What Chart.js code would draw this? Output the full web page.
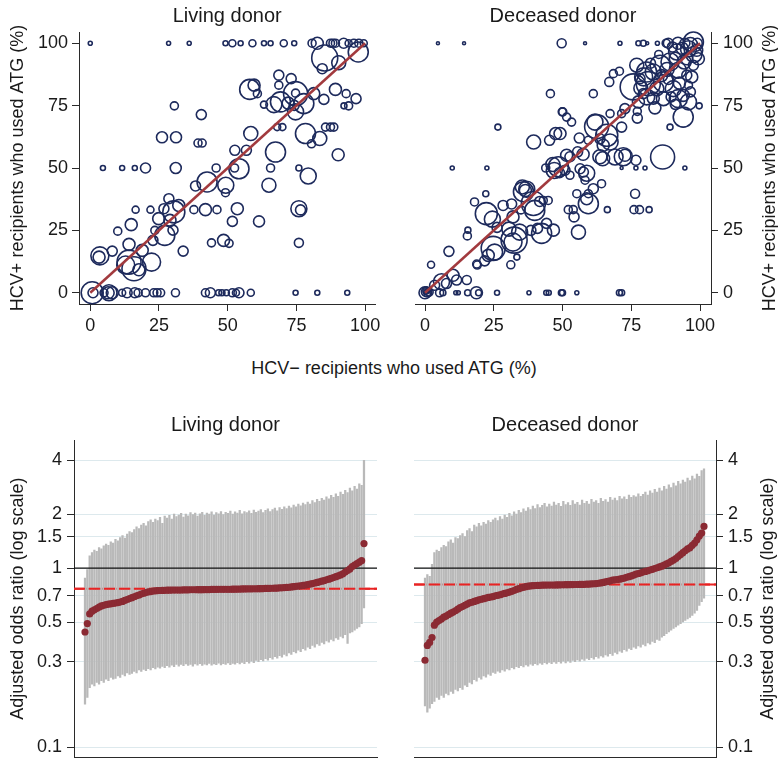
<!DOCTYPE html>
<html>
<head>
<meta charset="utf-8">
<title>ATG use by centre, HCV+ vs HCV− recipients</title>
<script src="https://cdn.jsdelivr.net/npm/chart.js@4.4.1/dist/chart.umd.min.js"></script>
<style>
  body { margin: 0; background: #fff; }
  #page { position: relative; width: 778px; height: 773px; font-family: "Liberation Sans", Arial, sans-serif; color: #1a1a1a; }
  #page canvas { position: absolute; }
  #sharedX { position: absolute; left: 5px; width: 778px; top: 357px; text-align: center; font-size: 18px; line-height: 22px; }
</style>
</head>
<body>
<div id="page">
  <canvas id="livingBubble" width="390" height="345" style="left:0;top:0"></canvas>
  <canvas id="deceasedBubble" width="388" height="345" style="left:390px;top:0"></canvas>
  <div id="sharedX">HCV− recipients who used ATG (%)</div>
  <canvas id="livingOdds" width="390" height="373" style="left:0;top:400px"></canvas>
  <canvas id="deceasedOdds" width="388" height="373" style="left:390px;top:400px"></canvas>
</div>

<script>
// ---- data ----
const pctTicks = [0, 25, 50, 75, 100];
const orTicks = [0.1, 0.3, 0.5, 0.7, 1, 1.5, 2, 4];
const identityLine = [0, 100];
const livingPooledOR = 0.768;
const deceasedPooledOR = 0.811;

// centre bubbles: [HCV- % ATG, HCV+ % ATG, size]
const livingBubbles = [
  [0,100,2],[28.5,100,2],[36,100,2],[49.2,100,2.5],[51.7,100,3.5],[54.7,100,2.5],[59,100,3.5],[63.2,100,2.5],[65.6,100,2.5],[70.4,100,3.5],
  [74.2,100,2.5],[80.7,100,4],[82.6,100,6],[87.4,100,4],[88.3,100,4],[89.2,100,4],[92.2,100,5],[94,100,3.5],[95.9,100,4],[97.7,100,4],[99.5,100,3.5],
  [85.3,94.1,13],[84.4,89.8,5],[90.4,92.2,7],[97.5,96.5,10],[68.6,87.2,5],[73.1,85.8,5],[68.6,83.2,4],[58,81.5,10],[59.6,83.2,6],[60.8,79.8,4],
  [74.7,79.8,12],[74.7,80,4],[81.3,79.8,6],[85,77.5,5],[89.2,81.5,6],[93.1,79.8,4],[96.7,77.8,5],[94,74.9,4],[92.3,74.9,3],
  [63.2,75.4,3.5],[66.8,75.4,8],[69.2,76.5,10],[74.2,75.1,5],[77.7,75.8,10],[74.7,72.5,8],[72,76,6],[68,66.4,3.5],[69.9,66.4,3.5],
  [78.3,63.8,10],[83.5,61.8,7],[80.5,59.7,4],[85.6,66.4,4],[87.4,66.4,4],[88.6,66.4,4],[58.4,63.8,7],[67.4,56.4,10],[90.2,55.3,6],[52.6,57.1,5],[56.8,57.1,5],
  [54.1,49.7,10],[52.5,50,4],[49.3,43.1,8],[65.6,50,4],[75.9,50,3],[79.3,46.8,8],[65,43.1,7],[53.5,33.7,6],[51.7,28.6,5],[61.4,28.6,5.5],
  [75.9,33.7,8],[76.5,33.2,5],[75.9,20,4.5],[30.6,74.9,4],[40.4,71.4,5],[26.1,62.3,5.5],[31.2,62.3,5.5],[39.2,60,4],[40.7,60,4],
  [4.6,50,2.5],[11.6,50,2.5],[16.2,50,2.5],[20.1,50,5],[31.1,50,5.5],[45.8,50,4],[42.5,44.4,10],[38.3,42.8,5],[49.2,40.1,4],
  [28.6,37.7,5],[30.4,32.4,11],[32.2,35,6],[26.8,33.7,5],[24.9,29.7,6],[23.5,25,4],[27.1,23,10],[22.8,21,5],[29,29,6],[30.1,25.1,5],
  [16.5,33.3,3.5],[21.9,33.3,3.5],[37.7,33.3,4],[41.9,33.3,6],[46.1,33.3,4],[14.9,27.3,6],[10,24.7,4],[33.8,16.7,5],[44.1,20,4],[48.5,21,6],[50.5,19.8,4],
  [3.2,14.3,6],[3.5,14.8,9],[8,16.7,5],[14.1,19.4,6],[14.1,12.3,12],[12.9,11.1,9],[15.9,9.6,12],[17.7,9.2,6],[22.3,12.3,9],[18.9,17,6],
  [0.7,0,11],[1,0,5],[6.8,0,8],[6.5,0,6],[8,0,6],[5,0,4],[11.6,0,3.5],[13.4,0,5],[16.2,0,5],[17.4,0,4],[20.1,0,4],[23.1,0,4],[24.3,0,4],[25.6,0,4],
  [31,0,4],[41.9,0,4],[43.7,0,5],[46.7,0,3],[47.9,0,3],[49.5,0,3],[51.7,0,4],[53,0,3.5],[54.1,0,5],[58.4,0,3.5],[74.7,0,2.5],[82.6,0,2.5],[93.5,0,2.5]
];

const deceasedBubbles = [
  [4.7,100,1.5],[14.2,100,1.5],[49.7,100,4.5],[58.2,100,1.5],[70.9,100,2],[77.6,100,2.5],[79.4,100,3],[80.8,100,1.5],[84.5,100,2],[87.7,100,4],[88.5,100,5],
  [92,100,6],[94.5,100,5],[97.6,100.5,10],[95.8,97.8,8],[91.5,96.5,8],[98.8,97.2,6],[95.2,93.8,6],[99.4,93.8,6],[97.6,91.2,5],[89.1,92.5,9],
  [92.1,89.2,8],[85.5,91.2,10],[83,88.5,8],[80.6,88.5,10],[77,91.2,7],[78.2,85.8,5],[75.7,82.5,13],[81.2,83.8,12],[84.3,81.8,7],[80.6,78.5,8],
  [86.7,84.5,10],[90.3,81.8,8],[95.2,87.2,5],[95.8,83.2,4],[92.1,77.8,9],[95.8,76.5,8],[93.9,79.1,6],[86.7,77.8,7],[83.6,74.1,6],[99.7,74.9,3],
  [93.9,70.4,10],[89.1,66.4,3],[79.4,79.8,5],[77.6,76.5,6],[77.2,70,5],[77.2,72.7,4],[61.2,79.8,4],[67,84.5,4.5],[68.5,87.8,4],[70.7,88.8,4],
  [72.7,73.8,5],[71.5,71.8,4],[45.6,79.8,4],[49.9,72.5,4],[26.5,66.4,3],
  [96.5,99.5,7],[93.5,98,6],[90,98.5,5],[99,100,5],[97.8,95.5,8],[94.2,92.5,7],[91,94,6],[88,89.5,7],[86,87,6],[82,92,5],[79.5,86.5,9],
  [88.5,85.5,5],[92.5,84,6],[97,86.5,6],[89.5,78.5,5],[83,78,6],[91,75.5,5],[96.5,80.5,5],[85,95.5,4],[78.5,82,7],
  [61.8,68.4,8],[62.4,66.6,12],[66.1,63.1,11],[67.3,60.4,8],[64.8,59.1,6],[63.6,61.7,5],[56.1,62,5],[59.4,61.1,4],[71.5,66.4,5],[67.3,71.8,4],
  [50.1,72.5,4],[51.5,70.4,4],[53.3,68.4,4],[49.1,63.8,6],[39.5,60.4,7],[45.3,61.1,5],[47.5,63.8,6],
  [64.6,53.7,7],[69.1,54.4,8],[72.7,55.1,6],[72.1,54.5,9],[76.7,53.1,5],[86.4,54.4,12],[71.5,50,1.5],[76.7,50,2],[80,50,2],[94.5,50,2],
  [51.5,55.1,6],[52.7,54.5,5],[55.5,56.5,5],[57.5,55.5,6],[63.6,54.5,7],
  [50.9,49.1,5],[52.7,47.1,4],[56.4,49.7,5],[57.6,48.4,5],[58.2,45.1,4],[58.8,47.9,8],[48.5,50.5,10],[47,49,8],[46.5,51.4,7],[48.9,48.1,5],[43.9,50,4],[9.9,50,2],[22.5,50,2],
  [55.2,39.7,4],[59.4,39.7,4],[61.2,41.7,5],[64.2,43.7,4],[58.8,37.7,6],[59.4,35.7,10],[52.1,33.3,4],[53.9,33.3,4],[54.2,30.4,5],[55.8,24.3,7],
  [66.3,33.3,3],[76,33.3,4],[78,33.3,4],[81.5,33.3,3],[76.4,39.7,4.5],
  [35.4,42.4,7],[36.5,41,6],[35.8,40.5,10],[37,41.5,8],[39.4,35.8,12],[41.7,36.6,5],[43,37,4],[44.8,37,4],[22.1,39.7,3],[18,36.4,4],
  [22.3,31.7,11],[24.5,29.5,8],[28.4,35,5],[31.5,35.6,5],[34.9,33.2,4],[32,30.4,6],[26.2,26.2,5],[30.5,25.5,7],[39.9,33,10],
  [42.4,23.8,10],[44.2,27.8,5],[46.7,25.1,6],[38.5,25,5],[40.9,25.8,5],[34.4,24.3,8],
  [32.4,21.1,13],[32,20.3,9],[24.8,17.8,12],[25.3,16.3,8],[23,15,6],[21.7,12.8,5],[18.8,11.5,4],[19,11.1,4],[31.2,11.2,4],[33.4,14.3,3],
  [15.6,25.1,3],[15.4,22.8,4],[8.7,16.6,5],[2.2,11.2,3.5],[10.2,7,6],[7.8,3.7,5],[11.5,5.1,5],[15.2,5.1,4.5],[6,4.4,8],[3.5,3,5],
  [0,0,6],[0.5,0.4,5],[1,0,4],[0.3,0.8,3],[1.5,0.3,4],[0.2,0.2,2],[0.8,0.6,2.5],[5.3,0,4],[6.5,0,3],[11.2,0,2],[12.1,0,2],[15.5,0,3],[18.7,0,6],[19.5,0,3],
  [26.2,0,2.5],[37.8,0,2],[44.1,0,2.5],[45,0,2.5],[49.6,0,3],[50,0,3],[55.2,0,2],[70.7,0,3],[71.5,0,3]
];

// centre-specific adjusted odds ratios, sorted, with 95% CI
const livingOR = [
  0.44, 0.49, 0.555, 0.575, 0.585, 0.595, 0.605, 0.615, 0.62, 0.625,
  0.63, 0.632, 0.635, 0.638, 0.642, 0.646, 0.652, 0.66, 0.668, 0.676,
  0.684, 0.692, 0.70, 0.708, 0.716, 0.724, 0.73, 0.736, 0.74, 0.744,
  0.747, 0.749, 0.75, 0.751, 0.752, 0.753, 0.753, 0.754, 0.754, 0.755,
  0.755, 0.755, 0.756, 0.756, 0.756, 0.757, 0.757, 0.757, 0.758, 0.758,
  0.758, 0.759, 0.759, 0.759, 0.76, 0.76, 0.76, 0.761, 0.761, 0.761,
  0.762, 0.762, 0.762, 0.763, 0.763, 0.764, 0.764, 0.765, 0.765, 0.766,
  0.766, 0.766, 0.767, 0.767, 0.768, 0.768, 0.769, 0.77, 0.77, 0.771,
  0.772, 0.773, 0.774, 0.775, 0.776, 0.778, 0.78, 0.782, 0.785, 0.788,
  0.791, 0.794, 0.797, 0.801, 0.805, 0.809, 0.814, 0.82, 0.826, 0.832,
  0.838, 0.845, 0.852, 0.86, 0.868, 0.877, 0.886, 0.896, 0.906, 0.916,
  0.93, 0.95, 0.97, 0.99, 1.02, 1.04, 1.06, 1.08, 1.1, 1.37
];
const livingLo = [
  0.174, 0.19, 0.215, 0.225, 0.22, 0.23, 0.225, 0.235, 0.23, 0.24,
  0.235, 0.245, 0.24, 0.242, 0.25, 0.245, 0.255, 0.25, 0.26, 0.255,
  0.258, 0.265, 0.26, 0.27, 0.265, 0.272, 0.268, 0.275, 0.27, 0.278,
  0.274, 0.28, 0.276, 0.283, 0.278, 0.285, 0.28, 0.287, 0.282, 0.29,
  0.284, 0.29, 0.285, 0.292, 0.286, 0.29, 0.284, 0.292, 0.287, 0.293,
  0.286, 0.291, 0.288, 0.294, 0.287, 0.292, 0.289, 0.295, 0.288, 0.293,
  0.29, 0.296, 0.289, 0.294, 0.291, 0.297, 0.292, 0.298, 0.293, 0.3,
  0.295, 0.302, 0.297, 0.305, 0.3, 0.308, 0.303, 0.312, 0.306, 0.316,
  0.31, 0.32, 0.314, 0.325, 0.318, 0.33, 0.324, 0.336, 0.33, 0.342,
  0.336, 0.348, 0.342, 0.355, 0.348, 0.362, 0.355, 0.37, 0.362, 0.378,
  0.37, 0.385, 0.378, 0.392, 0.386, 0.4, 0.392, 0.408, 0.4, 0.416,
  0.408, 0.425, 0.38, 0.435, 0.44, 0.45, 0.46, 0.47, 0.49, 0.6
];
const livingHi = [
  0.88, 0.98, 1.17, 1.22, 1.26, 1.24, 1.30, 1.28, 1.33, 1.36,
  1.34, 1.40, 1.38, 1.45, 1.42, 1.48, 1.52, 1.47, 1.55, 1.60,
  1.58, 1.64, 1.70, 1.66, 1.74, 1.78, 1.72, 1.82, 1.86, 1.80,
  1.88, 1.84, 1.92, 1.78, 1.95, 1.90, 1.97, 1.88, 2.00, 1.94,
  1.98, 2.02, 1.93, 2.00, 1.96, 2.04, 1.99, 2.03, 1.95, 2.01,
  2.05, 1.97, 2.03, 2.00, 2.06, 1.98, 2.04, 2.01, 2.07, 1.99,
  2.05, 2.02, 2.08, 2.00, 2.06, 2.03, 2.10, 2.01, 2.07, 2.04,
  2.09, 2.02, 2.11, 2.05, 2.08, 2.12, 2.04, 2.10, 2.14, 2.07,
  2.12, 2.16, 2.09, 2.18, 2.13, 2.20, 2.15, 2.22, 2.17, 2.25,
  2.20, 2.28, 2.23, 2.31, 2.26, 2.34, 2.28, 2.38, 2.32, 2.42,
  2.36, 2.45, 2.40, 2.50, 2.44, 2.55, 2.48, 2.60, 2.52, 2.66,
  2.58, 2.72, 2.64, 2.80, 2.70, 2.86, 2.76, 2.95, 2.90, 4.00
];

const deceasedOR = [
  0.306, 0.37, 0.385, 0.41, 0.48, 0.50, 0.51, 0.52, 0.532, 0.54,
  0.55, 0.56, 0.568, 0.578, 0.59, 0.602, 0.61, 0.62, 0.63, 0.64,
  0.645, 0.652, 0.658, 0.665, 0.67, 0.675, 0.68, 0.686, 0.69, 0.694,
  0.70, 0.705, 0.71, 0.716, 0.722, 0.728, 0.735, 0.742, 0.75, 0.76,
  0.768, 0.775, 0.782, 0.788, 0.793, 0.796, 0.798, 0.80, 0.801, 0.802,
  0.803, 0.803, 0.804, 0.804, 0.805, 0.805, 0.806, 0.806, 0.807, 0.807,
  0.808, 0.808, 0.809, 0.809, 0.81, 0.81, 0.811, 0.811, 0.812, 0.813,
  0.815, 0.816, 0.818, 0.82, 0.823, 0.827, 0.832, 0.837, 0.843, 0.849,
  0.856, 0.86, 0.864, 0.868, 0.874, 0.88, 0.888, 0.896, 0.905, 0.915,
  0.925, 0.933, 0.941, 0.95, 0.958, 0.967, 0.976, 0.985, 0.995, 1.005,
  1.015, 1.025, 1.04, 1.055, 1.07, 1.09, 1.11, 1.13, 1.16, 1.19,
  1.22, 1.25, 1.28, 1.30, 1.34, 1.38, 1.44, 1.51, 1.57, 1.71
];
const deceasedLo = [
  0.17, 0.157, 0.165, 0.175, 0.18, 0.19, 0.185, 0.195, 0.19, 0.2,
  0.196, 0.205, 0.2, 0.21, 0.206, 0.215, 0.21, 0.222, 0.218, 0.23,
  0.226, 0.238, 0.234, 0.245, 0.24, 0.25, 0.246, 0.256, 0.252, 0.262,
  0.258, 0.266, 0.262, 0.27, 0.266, 0.274, 0.27, 0.278, 0.274, 0.282,
  0.278, 0.285, 0.281, 0.288, 0.284, 0.291, 0.286, 0.293, 0.288, 0.295,
  0.29, 0.297, 0.292, 0.298, 0.293, 0.299, 0.294, 0.3, 0.295, 0.302,
  0.296, 0.303, 0.298, 0.305, 0.3, 0.307, 0.302, 0.31, 0.305, 0.313,
  0.308, 0.316, 0.31, 0.32, 0.314, 0.324, 0.318, 0.328, 0.322, 0.333,
  0.326, 0.338, 0.332, 0.344, 0.338, 0.35, 0.344, 0.356, 0.35, 0.362,
  0.356, 0.368, 0.362, 0.375, 0.368, 0.382, 0.376, 0.39, 0.384, 0.4,
  0.395, 0.412, 0.42, 0.43, 0.44, 0.45, 0.46, 0.47, 0.48, 0.49,
  0.5, 0.51, 0.52, 0.53, 0.545, 0.56, 0.58, 0.62, 0.65, 0.68
];
const deceasedHi = [
  0.88, 0.92, 0.90, 1.05, 1.22, 1.26, 1.24, 1.30, 1.34, 1.32,
  1.40, 1.44, 1.38, 1.48, 1.46, 1.52, 1.56, 1.50, 1.62, 1.66,
  1.60, 1.74, 1.70, 1.78, 1.72, 1.80, 1.76, 1.84, 1.80, 1.86,
  1.90, 1.84, 1.94, 1.88, 1.98, 1.92, 2.02, 1.96, 2.06, 2.00,
  2.10, 2.04, 2.14, 2.08, 2.18, 2.12, 2.22, 2.15, 2.26, 2.18,
  2.24, 2.30, 2.20, 2.28, 2.22, 2.34, 2.25, 2.30, 2.21, 2.36,
  2.26, 2.32, 2.24, 2.38, 2.28, 2.33, 2.25, 2.40, 2.30, 2.36,
  2.28, 2.42, 2.34, 2.38, 2.30, 2.45, 2.36, 2.41, 2.34, 2.48,
  2.40, 2.46, 2.38, 2.52, 2.44, 2.50, 2.42, 2.56, 2.48, 2.54,
  2.50, 2.60, 2.52, 2.58, 2.66, 2.56, 2.70, 2.62, 2.75, 2.66,
  2.80, 2.70, 2.86, 2.76, 2.92, 2.82, 2.98, 2.88, 3.05, 2.95,
  3.10, 3.02, 3.18, 3.08, 3.26, 3.15, 3.35, 3.25, 3.50, 3.58
];

// ---- styling ----
const navy = '#1d2a5c';
const diagRed = '#a23a3e';
const maroon = '#8b2a33';
const barGrey = '#b9b9b9';
const gridBlue = '#dde9ed';
const refRed = '#e82323';
const axisInk = '#2a2a2a';
const textInk = '#1a1a1a';

Chart.defaults.font.family = '"Liberation Sans", Arial, sans-serif';
Chart.defaults.font.size = 18;
Chart.defaults.color = textInk;

// y-axis title drawn bottom-to-top on the right-hand panels
const sideTitle = {
  id: 'sideTitle',
  afterDraw(chart, args, opts) {
    if (!opts.text) return;
    const ctx = chart.ctx;
    const area = chart.chartArea;
    ctx.save();
    ctx.translate(opts.x, (area.top + area.bottom) / 2);
    ctx.rotate(-Math.PI / 2);
    ctx.font = '18px "Liberation Sans", Arial, sans-serif';
    ctx.fillStyle = textInk;
    ctx.textAlign = 'center';
    ctx.textBaseline = 'middle';
    ctx.fillText(opts.text, 0, 0);
    ctx.restore();
  }
};
Chart.register(sideTitle);

function panelTitle(text, top, bottom) {
  return { display: true, text: text, fullSize: false, color: textInk,
           font: { size: 20, weight: 'normal' }, padding: { top: top, bottom: bottom } };
}

function bubblePanel(id, title, bubbles, left) {
  const yTitle = 'HCV+ recipients who used ATG (%)';
  return new Chart(document.getElementById(id), {
    type: 'bubble',
    data: {
      datasets: [
        {
          type: 'line',
          data: identityLine.map(v => ({ x: v, y: v })),
          borderColor: diagRed,
          borderWidth: 2.5,
          pointRadius: 0,
          order: 0
        },
        {
          data: bubbles.map(b => ({ x: b[0], y: b[1], r: b[2] })),
          backgroundColor: 'rgba(0,0,0,0)',
          borderColor: navy,
          borderWidth: 1.6,
          clip: false,
          order: 1
        }
      ]
    },
    options: {
      responsive: false,
      animation: false,
      events: [],
      layout: { padding: left ? { left: 0, right: 14, top: 0, bottom: 0 } : { left: 25, right: 0, top: 0, bottom: 0 } },
      plugins: {
        legend: { display: false },
        tooltip: { enabled: false },
        title: panelTitle(title, 4, 4),
        sideTitle: left ? {} : { text: yTitle, x: 380 }
      },
      scales: {
        x: {
          type: 'linear',
          min: left ? -4.1 : -3.64,
          max: left ? 103.74 : 104,
          afterBuildTicks: s => { s.ticks = pctTicks.map(v => ({ value: v })); },
          afterFit: s => { s.height = 41; },
          grid: { drawOnChartArea: false, tickLength: 7, color: axisInk },
          border: { color: axisInk, width: 1 },
          ticks: { padding: 4, maxRotation: 0, color: textInk }
        },
        y: {
          type: 'linear',
          position: left ? 'left' : 'right',
          min: -4.5,
          max: 104.5,
          afterBuildTicks: s => { s.ticks = pctTicks.map(v => ({ value: v })); },
          afterFit: s => { s.width = left ? 79 : 67; },
          grid: { drawOnChartArea: false, tickLength: 7, color: axisInk },
          border: { color: axisInk, width: 1 },
          ticks: { padding: left ? 4 : 5, color: textInk },
          title: { display: left, text: yTitle, color: textInk, padding: { top: 7, bottom: 0 } }
        }
      }
    }
  });
}

function oddsPanel(id, title, centre, lower, upper, pooled, left) {
  const yTitle = 'Adjusted odds ratio (log scale)';
  const span = [-4.69, left ? 124.55 : 124.12];
  return new Chart(document.getElementById(id), {
    type: 'bar',
    data: {
      datasets: [
        {
          type: 'line',
          data: centre.map((v, i) => ({ x: i, y: v })),
          showLine: false,
          pointRadius: 3.6,
          pointBackgroundColor: maroon,
          pointBorderWidth: 0,
          order: 0
        },
        {
          type: 'line',
          data: span.map(x => ({ x: x, y: pooled })),
          borderColor: refRed,
          borderWidth: 2,
          borderDash: [11, 4],
          pointRadius: 0,
          order: 1
        },
        {
          type: 'line',
          data: span.map(x => ({ x: x, y: 1 })),
          borderColor: '#111',
          borderWidth: 1.2,
          pointRadius: 0,
          order: 2
        },
        {
          data: lower.map((v, i) => ({ x: i, y: [v, upper[i]] })),
          backgroundColor: barGrey,
          barThickness: 1.6,
          order: 3
        },
        {
          type: 'line',
          data: span.map(x => ({ x: x, y: pooled })),
          borderColor: refRed,
          borderWidth: 2,
          pointRadius: 0,
          order: 4
        }
      ]
    },
    options: {
      responsive: false,
      animation: false,
      events: [],
      layout: { padding: left ? { left: 0, right: 13, top: 0, bottom: 5 } : { left: 24, right: 0, top: 0, bottom: 5 } },
      plugins: {
        legend: { display: false },
        tooltip: { enabled: false },
        title: panelTitle(title, 13, 3),
        sideTitle: left ? {} : { text: yTitle, x: 378 }
      },
      scales: {
        x: {
          type: 'linear',
          offset: false,
          min: span[0],
          max: span[1],
          afterFit: s => { s.height = 0; },
          grid: { display: false },
          border: { display: true, color: axisInk, width: 1 },
          ticks: { display: false }
        },
        y: {
          type: 'logarithmic',
          position: left ? 'left' : 'right',
          min: 0.088,
          max: 5.19,
          afterBuildTicks: s => { s.ticks = orTicks.map(v => ({ value: v })); },
          afterFit: s => { s.width = left ? 74 : 62; },
          grid: { color: gridBlue, tickColor: axisInk, tickLength: 7, lineWidth: 1 },
          border: { color: axisInk, width: 1 },
          ticks: { padding: 5, color: textInk, callback: v => String(v) },
          title: { display: left, text: yTitle, color: textInk, padding: { top: 7, bottom: 0 } }
        }
      }
    }
  });
}

bubblePanel('livingBubble', 'Living donor', livingBubbles, true);
bubblePanel('deceasedBubble', 'Deceased donor', deceasedBubbles, false);
oddsPanel('livingOdds', 'Living donor', livingOR, livingLo, livingHi, livingPooledOR, true);
oddsPanel('deceasedOdds', 'Deceased donor', deceasedOR, deceasedLo, deceasedHi, deceasedPooledOR, false);
</script>
</body>
</html>
